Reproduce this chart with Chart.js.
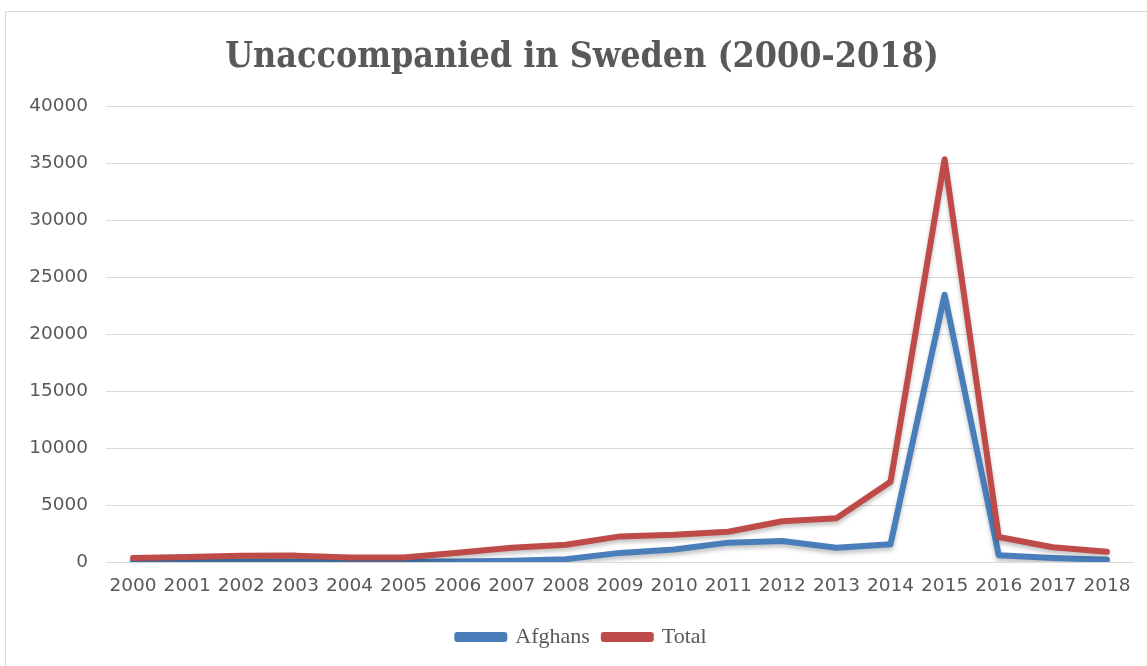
<!DOCTYPE html>
<html>
<head>
<meta charset="utf-8">
<script src="https://cdn.jsdelivr.net/npm/chart.js@4.4.1/dist/chart.umd.min.js"></script>
<style>
  html, body { margin: 0; padding: 0; background: #ffffff; }
  #wrap { position: relative; width: 1147px; height: 666px; overflow: hidden; }
  #frame { position: absolute; left: 5px; top: 11px; width: 1160px; height: 680px; border: 1px solid #d9d9d9; box-sizing: border-box; }
  #chart { position: absolute; left: 0; top: 0; }
</style>
</head>
<body>
<div id="wrap">
  <div id="frame"></div>
  <canvas id="chart" width="1147" height="666"></canvas>
</div>
<script>
// years on the x axis
const years = ['2000', '2001', '2002', '2003', '2004', '2005', '2006', '2007', '2008', '2009',
  '2010', '2011', '2012', '2013', '2014', '2015', '2016', '2017', '2018'];

const afghans = [20, 30, 40, 40, 30, 30, 50, 100, 250, 800, 1100, 1700, 1850, 1250, 1550, 23480, 600, 350, 200];
const total = [350, 450, 550, 560, 390, 400, 820, 1260, 1510, 2250, 2400, 2660, 3580, 3850, 7050, 35370, 2200, 1300, 900];

const yTicks = [0, 5000, 10000, 15000, 20000, 25000, 30000, 35000, 40000];

const grey = '#595959';
const blue = '#4a7ebb';
const red = '#be4b48';

// excel-style drop shadow under the lines
const lineShadow = {
  id: 'lineShadow',
  beforeDatasetsDraw(chart) {
    const ctx = chart.ctx;
    ctx.save();
    ctx.shadowColor = 'rgba(0,0,0,0.25)';
    ctx.shadowBlur = 4;
    ctx.shadowOffsetY = 3;
  },
  afterDatasetsDraw(chart) {
    chart.ctx.restore();
  }
};

new Chart(document.getElementById('chart'), {
  type: 'line',
  data: {
    labels: years,
    datasets: [
      {
        label: 'Afghans',
        data: afghans,
        borderColor: blue,
        backgroundColor: blue,
        borderWidth: 6,
        borderJoinStyle: 'round',
        borderCapStyle: 'round',
        pointRadius: 0,
        tension: 0,
        order: 1
      },
      {
        label: 'Total',
        data: total,
        borderColor: red,
        backgroundColor: red,
        borderWidth: 6,
        borderJoinStyle: 'round',
        borderCapStyle: 'round',
        pointRadius: 0,
        tension: 0,
        order: 0
      }
    ]
  },
  options: {
    responsive: false,
    animation: false,
    // left padding is wide so title and legend centre where the reference has them
    layout: { padding: { top: 11, left: 30, right: 13, bottom: 8 } },
    plugins: {
      title: {
        display: true,
        text: 'Unaccompanied in Sweden (2000-2018)',
        color: grey,
        font: { family: 'DejaVu Serif Condensed', size: 35.5, weight: 'bold' },
        padding: { top: 25, bottom: 28 }
      },
      legend: {
        position: 'bottom',
        labels: {
          color: grey,
          font: { family: 'Liberation Serif', size: 22 },
          boxWidth: 47,
          boxHeight: 4,
          padding: 14,
          sort: (a, b) => a.datasetIndex - b.datasetIndex
        }
      },
      tooltip: { enabled: false }
    },
    scales: {
      x: {
        offset: true,
        grid: { display: false },
        border: { display: false },
        ticks: {
          color: grey,
          font: { family: 'DejaVu Sans', size: 18.5 },
          maxRotation: 0,
          autoSkip: false,
          padding: 5
        },
        afterFit(scale) { scale.height = 50; }
      },
      y: {
        min: 0,
        max: 40000,
        afterBuildTicks(scale) { scale.ticks = yTicks.map(v => ({ value: v })); },
        grid: { color: '#d9d9d9', lineWidth: 1, drawTicks: false },
        border: { display: false },
        ticks: {
          color: grey,
          font: { family: 'DejaVu Sans', size: 18.5 },
          padding: 18,
          callback: v => String(v)
        },
        afterFit(scale) { scale.width = 76; }
      }
    }
  },
  plugins: [lineShadow]
});
</script>
</body>
</html>
